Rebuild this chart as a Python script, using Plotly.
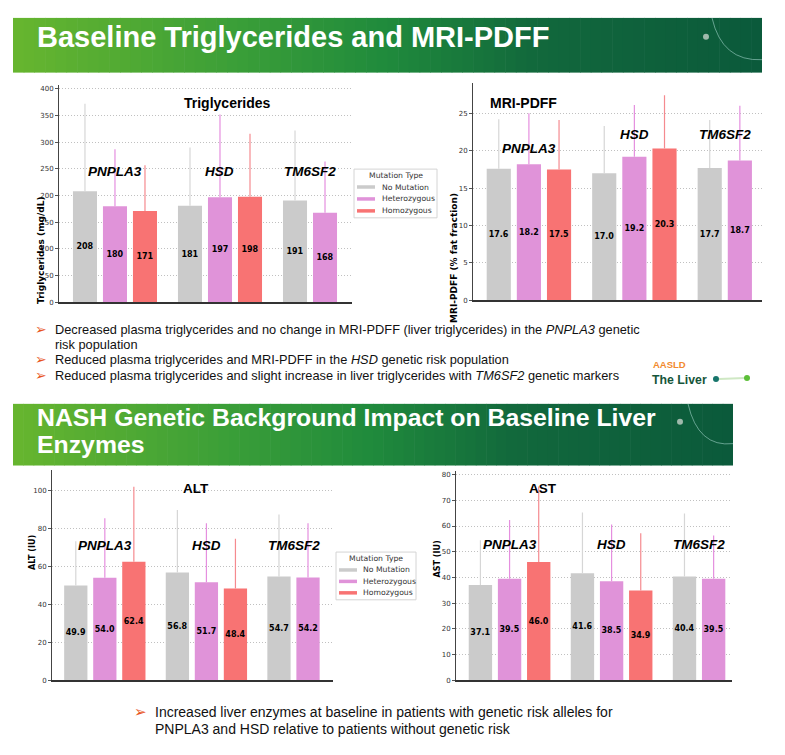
import plotly.graph_objects as go

W, H = 785, 755

# ---------------- data ----------------
groups = ["PNPLA3", "HSD", "TM6SF2"]
mutation_types = ["No Mutation", "Heterozygous", "Homozygous"]

tg_no = [208, 181, 191]
tg_het = [180, 197, 168]
tg_hom = [171, 198, None]
tg_err_no = [164, 109, 131]
tg_err_het = [107, 155, 96]
tg_err_hom = [86, 118, None]

pdff_no = [17.6, 17.0, 17.7]
pdff_het = [18.2, 19.2, 18.7]
pdff_hom = [17.5, 20.3, None]
pdff_err_no = [6.6, 6.3, 6.4]
pdff_err_het = [6.8, 6.9, 7.3]
pdff_err_hom = [6.6, 7.1, None]

alt_no = [49.9, 56.8, 54.7]
alt_het = [54.0, 51.7, 54.2]
alt_hom = [62.4, 48.4, None]
alt_err_no = [23.4, 32.9, 32.6]
alt_err_het = [31.3, 31.0, 28.5]
alt_err_hom = [39.6, 26.1, None]

ast_no = [37.1, 41.6, 40.4]
ast_het = [39.5, 38.5, 39.5]
ast_hom = [46.0, 34.9, None]
ast_err_no = [17.4, 23.7, 24.5]
ast_err_het = [22.8, 22.1, 16.8]
ast_err_hom = [29.4, 22.3, None]

tg_ticks = [0, 50, 100, 150, 200, 250, 300, 350, 400]
pdff_ticks = [0, 5, 10, 15, 20, 25]
alt_ticks = [0, 20, 40, 60, 80, 100]
ast_ticks = [0, 10, 20, 30, 40, 50, 60, 70, 80]

# --------------- style ---------------
BAR_COLORS = ["#cbcbcb", "#e093d9", "#f87373"]
ERR_COLORS = ["#d6d6d6", "#e58fdf", "#f58a8f"]
STRIDE = 0.2857
BAR_W = 0.229
ARIAL = "Liberation Sans, Arial, sans-serif"
DEJAVU = "DejaVu Sans, sans-serif"


def px(x):
    return x / W


def py(y):
    return 1 - y / H


charts = [
    dict(ax="", vals=[tg_no, tg_het, tg_hom], errs=[tg_err_no, tg_err_het, tg_err_hom],
         fmt="{:.0f}", xdom=[px(59), px(352)], ydom=[py(304), py(85)],
         xr=[-0.533, 2.257], yr=[0, 408], ticks=tg_ticks,
         label_y=[245, 245, 245]),
    dict(ax="2", vals=[pdff_no, pdff_het, pdff_hom], errs=[pdff_err_no, pdff_err_het, pdff_err_hom],
         fmt="{:.1f}", xdom=[px(473), px(762)], ydom=[py(302), py(83)],
         xr=[-0.53, 2.21], yr=[0, 29.1], ticks=pdff_ticks,
         label_y=[20.3, 22.2, 22.2]),
    dict(ax="3", vals=[alt_no, alt_het, alt_hom], errs=[alt_err_no, alt_err_het, alt_err_hom],
         fmt="{:.1f}", xdom=[px(52), px(333)], ydom=[py(684), py(473)],
         xr=[-0.52, 2.246], yr=[0, 110.5], ticks=alt_ticks,
         label_y=[71.2, 71.2, 71.2]),
    dict(ax="4", vals=[ast_no, ast_het, ast_hom], errs=[ast_err_no, ast_err_het, ast_err_hom],
         fmt="{:.1f}", xdom=[px(456), px(732)], ydom=[py(684), py(474)],
         xr=[-0.525, 2.18], yr=[0, 81.2], ticks=ast_ticks,
         label_y=[52.9, 53.0, 53.0]),
]

fig = go.Figure()
annotations = []
shapes = []
layout_axes = {}

for c in charts:
    xa, ya = "x" + c["ax"], "y" + c["ax"]
    present = {g: [] for g in range(len(groups))}
    for h, (vals, errs) in enumerate(zip(c["vals"], c["errs"])):
        xs, ys, es, txt = [], [], [], []
        for g, (v, e) in enumerate(zip(vals, errs)):
            if v is None:
                continue
            xpos = g + (h - 1) * STRIDE
            xs.append(xpos)
            ys.append(v)
            es.append(e)
            txt.append(c["fmt"].format(v))
            present[g].append(xpos)
        fig.add_trace(go.Bar(
            x=xs, y=ys, width=BAR_W, marker=dict(color=BAR_COLORS[h], line=dict(width=0)),
            error_y=dict(type="data", symmetric=False, array=es, arrayminus=[0] * len(es),
                         width=0, thickness=1.2, color=ERR_COLORS[h]),
            text=txt, textposition="inside", insidetextanchor="middle", constraintext="none",
            textangle=0,
            textfont=dict(family=DEJAVU, size=8, color="black", weight="bold"),
            xaxis=xa, yaxis=ya, showlegend=False, name=mutation_types[h], hoverinfo="skip"))
    for g, name in enumerate(groups):
        xm = sum(present[g]) / len(present[g])
        annotations.append(dict(x=xm, y=c["label_y"][g], xref=xa, yref=ya, text=f"<b><i>{name}</i></b>",
                                showarrow=False, font=dict(family=ARIAL, size=13.5, color="black"),
                                xanchor="center", yanchor="middle"))
    layout_axes["xaxis" + c["ax"]] = dict(
        domain=c["xdom"], range=c["xr"], anchor=ya, showticklabels=False, ticks="",
        showgrid=False, zeroline=False, showline=True, linecolor="#333", linewidth=1.5)
    layout_axes["yaxis" + c["ax"]] = dict(
        domain=c["ydom"], range=c["yr"], anchor=xa, tickvals=c["ticks"], ticks="outside",
        ticklen=3, tickcolor="#555", tickfont=dict(family=DEJAVU, size=7, color="#333"),
        showgrid=True, gridcolor="#c0c0c0", griddash="1px,2px", gridwidth=1, zeroline=False,
        showline=True, linecolor="#444", linewidth=1)


# legends (drawn as box + swatches + labels)
def add_legend(x0, x1, y0, y1, title_y, item_ys, sw_x0, sw_x1, text_x):
    shapes.append(dict(type="rect", xref="paper", yref="paper", x0=px(x0), x1=px(x1), y0=py(y1), y1=py(y0),
                       fillcolor="white", line=dict(color="#d4d4d4", width=1)))
    annotations.append(dict(x=px((x0 + x1) / 2), y=py(title_y), xref="paper", yref="paper", text="Mutation Type",
                            showarrow=False, yanchor="middle",
                            font=dict(family=DEJAVU, size=7.7, color="#333")))
    for h, name in enumerate(mutation_types):
        yy = item_ys[h]
        shapes.append(dict(type="line", xref="paper", yref="paper", x0=px(sw_x0), x1=px(sw_x1),
                           y0=py(yy), y1=py(yy), line=dict(color=BAR_COLORS[h], width=3.5)))
        annotations.append(dict(x=px(text_x), y=py(yy), xref="paper", yref="paper", text=name,
                                showarrow=False, xanchor="left", yanchor="middle",
                                font=dict(family=DEJAVU, size=7.7, color="#333")))


add_legend(354, 437, 170, 219, 176.5, [188, 200, 212], 357, 375, 380)
add_legend(336, 416, 555, 603, 561.5, [573, 584.5, 596], 339, 357, 361)

# chart titles and axis titles
for text, x, y, size in [("Triglycerides", 182, 93, 14), ("MRI-PDFF", 523, 93, 14),
                         ("ALT", 181, 491, 13.5), ("AST", 559, 491, 13.5)]:
    annotations.append(dict(x=px(x), y=py(y), xref="paper", yref="paper", text=f"<b>{text}</b>",
                            showarrow=False, font=dict(family=ARIAL, size=size, color="black")))
for text, x, y, size in [("Triglycerides (mg/dL)", 34, 195, 9), ("MRI-PDFF (% fat fraction)", 454, 192, 9),
                         ("ALT (IU)", 26, 575, 8), ("AST (IU)", 437, 583, 8)]:
    annotations.append(dict(x=px(x), y=py(y), xref="paper", yref="paper", text=f"<b>{text}</b>",
                            textangle=-90, showarrow=False,
                            font=dict(family=DEJAVU, size=size, color="black")))


# banners
def lerp_color(stops, t):
    for (t0, c0), (t1, c1) in zip(stops[:-1], stops[1:]):
        if t0 <= t <= t1:
            f = (t - t0) / (t1 - t0) if t1 > t0 else 0
            a = [int(c0[i:i + 2], 16) for i in (1, 3, 5)]
            b = [int(c1[i:i + 2], 16) for i in (1, 3, 5)]
            return "#" + "".join(f"{round(a[i] + (b[i] - a[i]) * f):02x}" for i in range(3))
    return stops[-1][1]


stops = [(0, "#66b52f"), (0.3, "#3a9e38"), (0.5, "#1f8a3c"), (0.7, "#12683c"), (1.0, "#0b5a3b")]
for (x0, x1, y0, y1) in [(13, 762, 18, 73), (13, 733, 406, 468)]:
    n = 70
    for i in range(n):
        a = x0 + (x1 - x0) * i / n
        b = x0 + (x1 - x0) * (i + 1) / n + 0.6
        shapes.append(dict(type="rect", xref="paper", yref="paper", x0=px(a), x1=px(min(b, x1)),
                           y0=py(y1), y1=py(y0), fillcolor=lerp_color(stops, i / (n - 1)),
                           line=dict(width=0), layer="below"))
for cx, cy in [(706, 37), (680, 424)]:
    shapes.append(dict(type="circle", xref="paper", yref="paper", x0=px(cx - 3), x1=px(cx + 3),
                       y0=py(cy + 3), y1=py(cy - 3), fillcolor="#9fb9ab", line=dict(width=0)))
shapes.append(dict(type="path", xref="paper", yref="paper",
                   path=f"M {px(712)},{py(18)} Q {px(722)},{py(62)} {px(762)},{py(60)}",
                   line=dict(color="rgba(160,210,200,0.6)", width=1)))
shapes.append(dict(type="path", xref="paper", yref="paper",
                   path=f"M {px(688)},{py(406)} Q {px(698)},{py(450)} {px(733)},{py(446)}",
                   line=dict(color="rgba(160,210,200,0.6)", width=1)))

annotations.append(dict(x=px(35), y=py(37), xref="paper", yref="paper", xanchor="left", yanchor="middle",
                        text="<b>Baseline Triglycerides and MRI-PDFF</b>", showarrow=False,
                        font=dict(family=ARIAL, size=29, color="white")))
annotations.append(dict(x=px(35), y=py(420), xref="paper", yref="paper", xanchor="left", yanchor="middle",
                        text="<b>NASH Genetic Background Impact on Baseline Liver</b>", showarrow=False,
                        font=dict(family=ARIAL, size=24.8, color="white")))
annotations.append(dict(x=px(35), y=py(447), xref="paper", yref="paper", xanchor="left", yanchor="middle",
                        text="<b>Enzymes</b>", showarrow=False,
                        font=dict(family=ARIAL, size=24.8, color="white")))

# bullet text
bullets = [
    (53, 331, 12.8, "Decreased plasma triglycerides and no change in MRI-PDFF (liver triglycerides) in the <i>PNPLA3</i> genetic", True),
    (53, 346, 12.8, "risk population", False),
    (53, 361, 12.8, "Reduced plasma triglycerides and MRI-PDFF in the <i>HSD</i> genetic risk population", True),
    (53, 377, 12.8, "Reduced plasma triglycerides and slight increase in liver triglycerides with <i>TM6SF2</i> genetic markers", True),
    (153, 716, 14, "Increased liver enzymes at baseline in patients with genetic risk alleles for", True),
    (153, 733, 14, "PNPLA3 and HSD relative to patients without genetic risk", False),
]
for x, y, size, text, arrow in bullets:
    annotations.append(dict(x=px(x), y=py(y), xref="paper", yref="paper", xanchor="left", yanchor="middle",
                            text=text, showarrow=False, font=dict(family=ARIAL, size=size, color="#111")))
    if arrow:
        annotations.append(dict(x=px(x - 4), y=py(y), xref="paper", yref="paper", xanchor="right",
                                yanchor="middle", text="➢", showarrow=False,
                                font=dict(family=DEJAVU, size=size + 1, color="#e8541c")))

# AASLD logo
annotations.append(dict(x=px(688), y=py(366), xref="paper", yref="paper", text="<b>AASLD</b>",
                        showarrow=False, font=dict(family=ARIAL, size=9.5, color="#f28a2e")))
annotations.append(dict(x=px(650), y=py(382), xref="paper", yref="paper", xanchor="left", text="<b>The Liver</b>",
                        showarrow=False, font=dict(family=ARIAL, size=12.3, color="#16553a")))
shapes.append(dict(type="line", xref="paper", yref="paper", x0=px(719), x1=px(745), y0=py(381), y1=py(380),
                   line=dict(color="#cfe8c4", width=2)))
shapes.append(dict(type="circle", xref="paper", yref="paper", x0=px(713), x1=px(719), y0=py(384), y1=py(378),
                   fillcolor="#17756b", line=dict(width=0)))
shapes.append(dict(type="circle", xref="paper", yref="paper", x0=px(744), x1=px(750), y0=py(383), y1=py(377),
                   fillcolor="#5cbf38", line=dict(width=0)))

fig.update_layout(
    width=W, height=H, margin=dict(l=0, r=0, t=0, b=0),
    paper_bgcolor="white", plot_bgcolor="rgba(0,0,0,0)",
    barmode="overlay", showlegend=False,
    annotations=annotations, shapes=shapes,
    **layout_axes,
)

fig.write_html("out.html", post_script="document.body.style.margin='0px';",
               config={"displayModeBar": False})
